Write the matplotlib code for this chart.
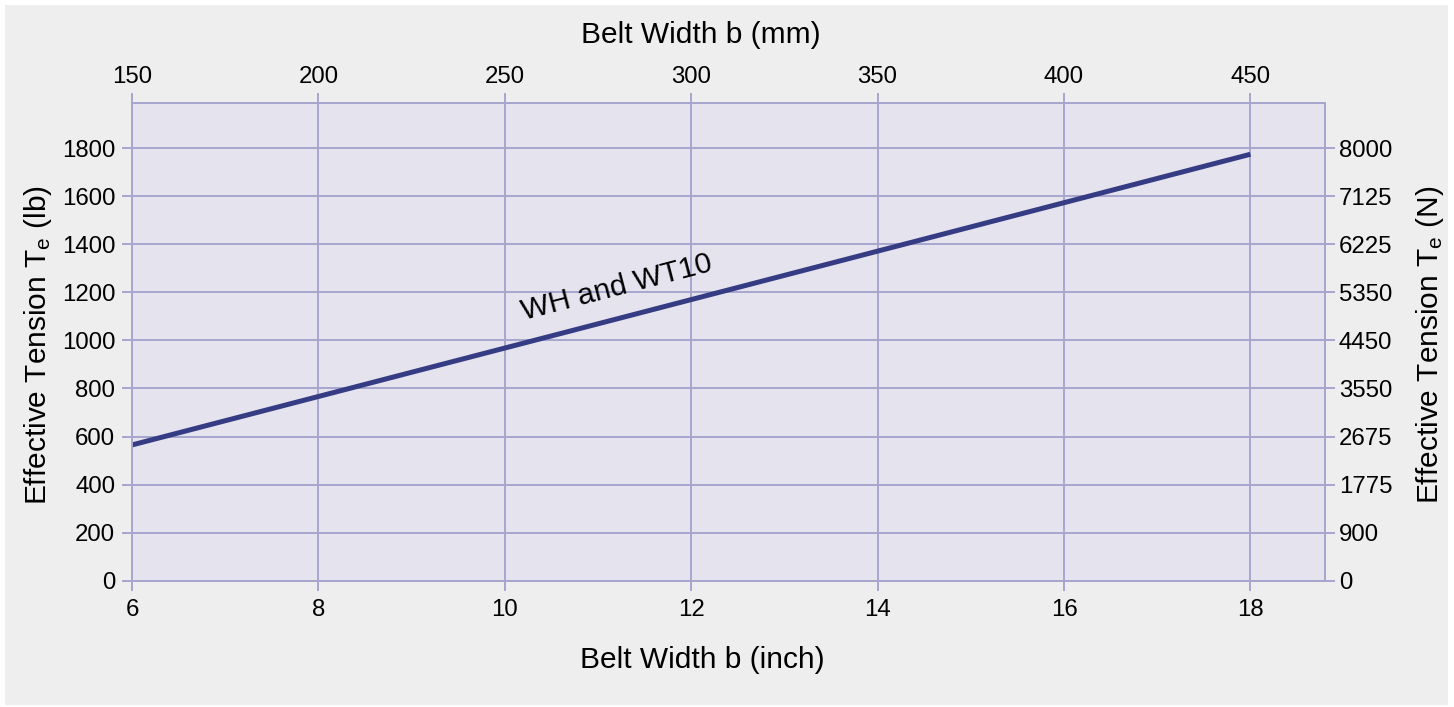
import matplotlib
matplotlib.use("Agg")
import matplotlib.pyplot as plt
from matplotlib.patches import Rectangle

# Data
width_inch = [6, 18]
tension_lb = [565, 1775]
x_ticks_inch = [6, 8, 10, 12, 14, 16, 18]
x_ticks_mm = [150, 200, 250, 300, 350, 400, 450]
y_ticks_lb = [0, 200, 400, 600, 800, 1000, 1200, 1400, 1600, 1800]
y_labels_N = ["0", "900", "1775", "2675", "3550", "4450", "5350", "6225", "7125", "8000"]
series_label = "WH and WT10"

plt.rcParams['font.family'] = ['Liberation Sans', 'DejaVu Sans']
plt.rcParams['mathtext.default'] = 'regular'

GRID = '#a6a6cf'
FACE = '#e5e3ee'
BG = '#eeeeee'
LINE = '#363c83'
FS = 17.3
LFS = 21.5

fig = plt.figure(figsize=(14.54, 7.07), dpi=100, facecolor='white')
fig.patches.append(Rectangle((5/1454, 2/707), 1443/1454, 700/707,
                             transform=fig.transFigure, facecolor=BG,
                             edgecolor='none', zorder=-10))

W, H = 1454, 707
left, right, top, bottom = 132, 1325, 103.3, 580.7
ax = fig.add_axes([left/W, (H-bottom)/H, (right-left)/W, (bottom-top)/H])
ax.set_facecolor(FACE)
ax.set_xlim(6, 18.8)
ax.set_ylim(0, 1987)

ax.plot(width_inch, tension_lb, color=LINE, lw=3.6, solid_capstyle='butt', zorder=3)

ax.set_xticks(x_ticks_inch)
ax.set_yticks(y_ticks_lb)
ax.grid(True, color=GRID, lw=1.4, zorder=0)
ax.set_axisbelow(True)
for s in ax.spines.values():
    s.set_color(GRID)
    s.set_linewidth(1.4)
ax.tick_params(axis='both', colors=GRID, length=7, width=1.4, labelcolor='black',
               labelsize=FS, direction='out')
ax.tick_params(axis='x', pad=6)
ax.tick_params(axis='y', pad=5)

# top axis (mm)
sec = ax.secondary_xaxis('top', functions=(lambda x: x*25, lambda x: x/25))
sec.set_xticks(x_ticks_mm)
sec.spines['top'].set_color(GRID)
sec.spines['top'].set_linewidth(1.4)
sec.tick_params(colors=GRID, length=7, width=1.4, labelcolor='black',
                labelsize=FS, pad=4)

# right axis (N)
twin = ax.twinx()
twin.set_ylim(ax.get_ylim())
twin.set_yticks(y_ticks_lb, labels=y_labels_N)
for s in twin.spines.values():
    s.set_color(GRID)
    s.set_linewidth(1.4)
twin.tick_params(colors=GRID, length=7, width=1.4, labelcolor='black',
                 labelsize=FS, pad=3)

ax.text(11.2, 1220, series_label, rotation=14.6, ha='center', va='center',
        fontsize=LFS, color='black', zorder=4)

fig.text(701/W, (H-35)/H, "Belt Width b (mm)", ha='center', va='center', fontsize=LFS)
fig.text(702/W, (H-660)/H, "Belt Width b (inch)", ha='center', va='center', fontsize=LFS)
fig.text(38/W, (H-345)/H, "Effective Tension T$_{e}$ (lb)", ha='center', va='center',
         rotation=90, fontsize=LFS)
fig.text(1430/W, (H-345)/H, "Effective Tension T$_{e}$ (N)", ha='center', va='center',
         rotation=90, fontsize=LFS)

fig.savefig("out.png", dpi=100, facecolor=fig.get_facecolor())
